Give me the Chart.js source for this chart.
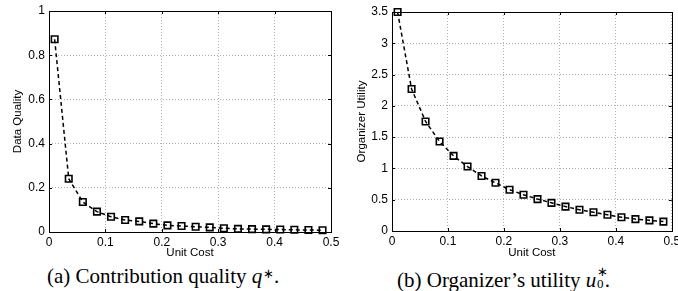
<!DOCTYPE html>
<html>
<head>
<meta charset="utf-8">
<script src="https://cdn.jsdelivr.net/npm/chart.js@4"></script>
<style>
  body { margin: 0; background: #fff; width: 678px; height: 291px; overflow: hidden; position: relative; }
  .box { position: absolute; top: 0; }
  .cap { position: absolute; top: 266px; font-family: "Liberation Serif", "Times New Roman", serif; font-size: 21px; line-height: 20px; white-space: nowrap; color: #000; }
  .sup { position: relative; top: -0.42em; font-size: 0.62em; margin-left: 0.05em; }
  .ss { display: inline-block; position: relative; width: 0.4em; height: 1em; }
  .ss span { position: absolute; left: 0.05em; font-size: 0.62em; }
</style>
</head>
<body>
<div class="box" style="left:0"><canvas id="chartQ" width="340" height="262"></canvas></div>
<div class="box" style="left:340px"><canvas id="chartU" width="338" height="262"></canvas></div>
<div class="cap" style="left:47px">(a) Contribution quality <i>q</i><span class="sup">∗</span>.</div>
<div class="cap" style="left:397px">(b) Organizer’s utility <i>u</i><span class="ss"><span style="top:-0.3em">∗</span><span style="top:0.6em">0</span></span>.</div>
<script>
// unit cost values (x)
const unitCost = [0.01, 0.035, 0.06, 0.085, 0.11, 0.135, 0.16, 0.185, 0.21, 0.235,
                  0.26, 0.285, 0.31, 0.335, 0.36, 0.385, 0.41, 0.435, 0.46, 0.485];
// (a) data quality
const quality = [0.872, 0.241, 0.136, 0.092, 0.069, 0.054, 0.048, 0.038, 0.030, 0.027,
                 0.024, 0.021, 0.017, 0.014, 0.013, 0.012, 0.011, 0.010, 0.009, 0.008];
// (b) organizer utility
const utility = [3.50, 2.27, 1.75, 1.43, 1.20, 1.03, 0.88, 0.77, 0.66, 0.58,
                 0.51, 0.45, 0.39, 0.34, 0.30, 0.26, 0.22, 0.19, 0.17, 0.15];

const xTicks = ['0', '0.1', '0.2', '0.3', '0.4', '0.5'];
const qTicks = ['0', '0.2', '0.4', '0.6', '0.8', '1'];
const uTicks = ['0', '0.5', '1', '1.5', '2', '2.5', '3', '3.5'];

const sans = '"Liberation Sans", Arial, Helvetica, sans-serif';

// black box + small inward ticks, like matlab axes
const boxPlugin = {
  id: 'box',
  afterDraw(chart) {
    const {ctx, chartArea: a, scales} = chart;
    ctx.save();
    ctx.setLineDash([]);
    ctx.strokeStyle = '#000';
    ctx.lineWidth = 1;
    const t = 3;
    ctx.beginPath();
    scales.x.ticks.forEach(tk => {
      const px = Math.round(scales.x.getPixelForValue(tk.value)) + 0.5;
      ctx.moveTo(px, a.bottom); ctx.lineTo(px, a.bottom - t);
      ctx.moveTo(px, a.top); ctx.lineTo(px, a.top + t);
    });
    scales.y.ticks.forEach(tk => {
      const py = Math.round(scales.y.getPixelForValue(tk.value)) + 0.5;
      ctx.moveTo(a.left, py); ctx.lineTo(a.left + t, py);
      ctx.moveTo(a.right, py); ctx.lineTo(a.right - t, py);
    });
    ctx.stroke();
    ctx.strokeRect(Math.round(a.left) + 0.5, Math.round(a.top) + 0.5,
                   Math.round(a.right - a.left), Math.round(a.bottom - a.top));
    ctx.restore();
  }
};

function makeChart(id, values, yMax, yStep, yLabels, yTitle, opts) {
  return new Chart(document.getElementById(id), {
    type: 'line',
    data: {
      datasets: [{
        data: unitCost.map((x, i) => ({x: x, y: values[i]})),
        borderColor: '#000',
        borderWidth: 1.5,
        borderDash: [4, 3],
        tension: 0,
        fill: false,
        clip: 8,
        pointStyle: 'rect',
        pointRadius: 4.6,
        pointBorderWidth: 1.6,
        pointBorderColor: '#000',
        pointBackgroundColor: 'rgba(255,255,255,0)'
      }]
    },
    options: {
      responsive: false,
      animation: false,
      events: [],
      layout: {padding: {top: opts.top, right: opts.right, left: 0, bottom: 0}},
      plugins: {legend: {display: false}, tooltip: {enabled: false}},
      scales: {
        x: {
          type: 'linear', min: 0, max: 0.5,
          ticks: {
            stepSize: 0.1, padding: 3, maxRotation: 0, color: '#000',
            font: {family: sans, size: 12},
            callback: (v, i) => xTicks[i]
          },
          grid: {color: '#b0b0b0', lineWidth: 1, drawTicks: false},
          border: {display: false, dash: [1, 2]},
          title: {display: true, text: 'Unit Cost', color: '#000',
                  font: {family: sans, size: 11.5}, padding: {top: 0, bottom: 2.2}},
          afterFit: s => { s.height = opts.xh; s.paddingLeft = 0; s.paddingRight = 0; }
        },
        y: {
          type: 'linear', min: 0, max: yMax,
          ticks: {
            stepSize: yStep, padding: 4, color: '#000',
            font: {family: sans, size: 12},
            callback: (v, i) => yLabels[i]
          },
          grid: {color: '#b0b0b0', lineWidth: 1, drawTicks: false},
          border: {display: false, dash: [1, 2]},
          title: {display: true, text: yTitle, color: '#000',
                  font: {family: sans, size: 11.5}, padding: {top: opts.tp, bottom: 0}},
          afterFit: s => { s.width = opts.yw; s.paddingTop = 0; s.paddingBottom = 0; }
        }
      }
    },
    plugins: [boxPlugin]
  });
}

makeChart('chartQ', quality, 1, 0.2, qTicks, 'Data Quality',
          {top: 11, right: 9, xh: 30, yw: 49, tp: 11.1});
makeChart('chartU', utility, 3.5, 0.5, uTicks, 'Organizer Utility',
          {top: 12, right: 5, xh: 31, yw: 52, tp: 14.8});
</script>
</body>
</html>
